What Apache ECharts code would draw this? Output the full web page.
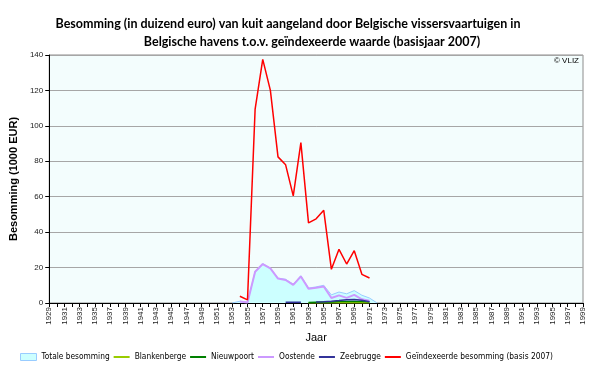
<!DOCTYPE html>
<html><head><meta charset="utf-8">
<script src="https://cdn.jsdelivr.net/npm/echarts@6/dist/echarts.min.js"></script>
<style>html,body{margin:0;padding:0;background:#fff}#c{width:600px;height:368px}</style>
</head><body><div id="c"></div>
<script>
// Categories: years 1929..1999
var years = ['1929','1930','1931','1932','1933','1934','1935','1936','1937','1938','1939','1940','1941','1942','1943','1944','1945','1946','1947','1948','1949','1950','1951','1952','1953','1954','1955','1956','1957','1958','1959','1960','1961','1962','1963','1964','1965','1966','1967','1968','1969','1970','1971','1972','1973','1974','1975','1976','1977','1978','1979','1980','1981','1982','1983','1984','1985','1986','1987','1988','1989','1990','1991','1992','1993','1994','1995','1996','1997','1998','1999'];
// Values for 1953..1972 (null = no data)
var dataYears   = ['1953','1954','1955','1956','1957','1958','1959','1960','1961','1962','1963','1964','1965','1966','1967','1968','1969','1970','1971','1972'];
var totaal      = [0, 1.0, 0.4, 17.8, 22.2, 19.7, 14.0, 13.4, 10.6, 15.4, 8.4, 9.1, 10.0, 4.6, 6.2, 5.2, 7.0, 4.4, 2.8, 0];
var blankenberge= [null,null,null,null,null,null,null,null,null,null,0.1,0.1,0.1,0.1,0.1,0.1,0.1,0.1,0.1,null];
var nieuwpoort  = [null,null,null,null,null,null,null,null,null,null,0.3,0.4,0.5,0.5,0.8,0.8,0.9,0.8,0.7,null];
var oostende    = [null,0.8,0.3,17.6,22.0,19.5,13.8,13.0,10.2,15.0,8.1,8.6,9.3,2.8,4.3,2.9,4.6,2.1,1.3,null];
var zeebrugge   = [null,null,null,null,null,null,null,0.4,0.4,0.4,null,0.5,0.7,1.0,1.4,1.9,2.0,1.6,0.7,null];
var geindexeerd = [null,3.8,1.8,109.5,137.5,120.0,82.5,78.0,60.5,90.5,45.2,47.5,52.3,19.0,30.3,22.0,29.5,16.2,14.1,null];
var yTicks = [0,20,40,60,80,100,120,140];
var titleLines = ['Besomming (in duizend euro) van kuit aangeland door Belgische vissersvaartuigen in',
                  'Belgische havens t.o.v. geïndexeerde waarde (basisjaar 2007)'];

function full(vals){
  var out = years.map(function(){return null;});
  dataYears.forEach(function(y,i){ out[years.indexOf(y)] = vals[i]; });
  return out;
}
var FONT = 'Liberation Sans';
var hideSym = {opacity:0, borderWidth:0};
var chart = echarts.init(document.getElementById('c'), null, {renderer:'canvas'});
chart.setOption({
  animation:false,
  backgroundColor:'#fff',
  textStyle:{fontFamily:FONT},
  grid:{left:44,right:17,top:55,bottom:65,show:true,backgroundColor:'#f3fdfd',borderColor:'#8c8c8c',borderWidth:1},
  graphic:[
    {type:'text',x:288,y:24,style:{text:titleLines[0],align:'center',verticalAlign:'middle',font:'bold 12.5px Lato',fill:'#000'}},
    {type:'text',x:312,y:42,style:{text:titleLines[1],align:'center',verticalAlign:'middle',font:'bold 12.5px Lato',fill:'#000'}},
    {type:'text',right:21,top:57,style:{text:'© VLIZ',font:'8px '+FONT,fill:'#000'}}
  ],
  legend:{
    bottom:2,left:15,itemGap:3,itemWidth:16,itemHeight:7,
    textStyle:{fontFamily:'"DejaVu Sans Condensed"',fontSize:8.3,color:'#000'},
    data:[
      {name:'Totale besomming',icon:'rect',itemStyle:{color:'#ccffff',borderColor:'#99ccff',borderWidth:1}},
      {name:'Blankenberge',itemStyle:hideSym},
      {name:'Nieuwpoort',itemStyle:hideSym},
      {name:'Oostende',itemStyle:hideSym},
      {name:'Zeebrugge',itemStyle:hideSym},
      {name:'Geïndexeerde besomming (basis 2007)',itemStyle:hideSym}
    ]
  },
  xAxis:{
    type:'category',data:years,boundaryGap:false,
    name:'Jaar',nameLocation:'middle',nameGap:20,
    nameTextStyle:{fontFamily:FONT,fontSize:11,color:'#000'},
    axisLine:{lineStyle:{color:'#000'}},
    axisTick:{show:true,interval:0,length:4,lineStyle:{color:'#000'}},
    axisLabel:{interval:1,rotate:90,fontSize:8,color:'#222',margin:4},
    splitLine:{show:false}
  },
  yAxis:{
    type:'value',min:yTicks[0],max:yTicks[yTicks.length-1],interval:20,
    name:'Besomming (1000 EUR)',nameLocation:'middle',nameGap:27,
    nameTextStyle:{fontFamily:FONT,fontSize:11,fontWeight:'bold',color:'#000'},
    axisLine:{show:true,lineStyle:{color:'#000'}},
    axisTick:{show:true,length:4,lineStyle:{color:'#000'}},
    axisLabel:{fontSize:8,color:'#222',margin:6},
    splitLine:{lineStyle:{color:'#a6a6a6',width:1}}
  },
  series:[
    {name:'Totale besomming',type:'line',data:full(totaal),symbol:'none',
     lineStyle:{color:'#99ccff',width:1},itemStyle:{color:'#ccffff'},
     areaStyle:{color:'#ccffff',opacity:1}},
    {name:'Blankenberge',type:'line',data:full(blankenberge),symbol:'none',lineStyle:{color:'#99cc00',width:1.5},itemStyle:{color:'#99cc00'}},
    {name:'Nieuwpoort',type:'line',data:full(nieuwpoort),symbol:'none',lineStyle:{color:'#008000',width:1.5},itemStyle:{color:'#008000'}},
    {name:'Oostende',type:'line',data:full(oostende),symbol:'none',lineStyle:{color:'#cc99ff',width:2},itemStyle:{color:'#cc99ff'}},
    {name:'Zeebrugge',type:'line',data:full(zeebrugge),symbol:'none',lineStyle:{color:'#333399',width:1.5},itemStyle:{color:'#333399'}},
    {name:'Geïndexeerde besomming (basis 2007)',type:'line',data:full(geindexeerd),symbol:'none',lineStyle:{color:'#ff0000',width:1.5},itemStyle:{color:'#ff0000'}}
  ]
});
</script></body></html>
